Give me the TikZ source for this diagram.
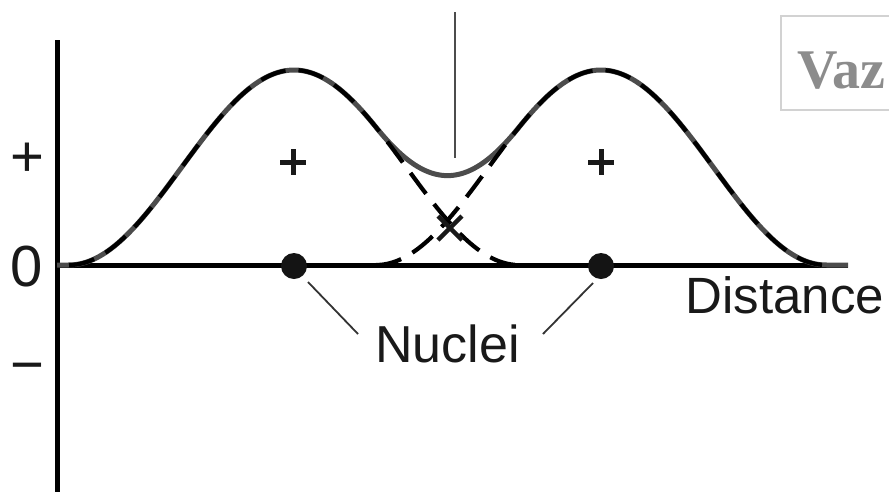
\documentclass[tikz,border=0pt]{standalone}
\usepackage{fontspec}
\setmainfont{Liberation Sans}
\newfontfamily\wmfont{Liberation Serif}
\definecolor{curvegray}{HTML}{4C4C4C}
\definecolor{wmgray}{HTML}{8C8C8C}
\definecolor{wmframe}{HTML}{D2D2D2}
\tikzset{
  axisline/.style={line width=5pt, black},
  sumcurve/.style={line width=5pt, curvegray, line join=round},
  orbcurve/.style={line width=4.2pt, black, dash pattern=on 26pt off 13pt},
  leader/.style={line width=1.8pt, black!80},
  signline/.style={line width=5pt, black!90},
  biglabel/.style={font=\fontsize{52}{60}\selectfont, inner sep=0pt, text=black!90},
  axlabel/.style={font=\fontsize{58}{66}\selectfont, inner sep=0pt, text=black!90},
  nucleus/.style={circle, fill=black!92, minimum size=26pt, inner sep=0pt},
}
\begin{document}
\begin{tikzpicture}[x=1pt,y=-1pt,
  declare function={
    fa(\t)=(abs(\t-294)<225)*97.5*(1+cos(0.8*(\t-294)));
    fb(\t)=(abs(\t-601)<225)*97.5*(1+cos(0.8*(\t-601)));
  }]
\useasboundingbox (0,0) rectangle (889,491);

% watermark box
\draw[wmframe, line width=1.5pt] (781,16) rectangle (960,110);
\node[anchor=base west, inner sep=0pt, text=wmgray, font=\wmfont\bfseries\fontsize{56}{64}\selectfont] (wm) at (797,88) {Vaz};

% vertical marker line
\coordinate (vtop) at (455,12);
\coordinate (vbot) at (455,158);
\draw[line width=2pt, curvegray] (vtop) -- (vbot);

% axes
\coordinate (yt) at (57,40);
\coordinate (yb) at (57,495);
\coordinate (xl) at (57,265);
\coordinate (xr) at (848,265);
\draw[axisline] (yt) -- (yb);
\draw[axisline] (xl) -- (xr);

% summed curve
\draw[sumcurve] plot[domain=57:848, samples=240] (\x,{265-fa(\x)-fb(\x)});
% individual orbitals (dashed)
\draw[orbcurve] plot[domain=69:519, samples=160] (\x,{265-fa(\x)});
\draw[orbcurve] plot[domain=376:826, samples=160] (\x,{265-fb(\x)});

% signs inside lobes
\draw[signline] (280,162) -- (306,162) (293,149) -- (293,175);
\draw[signline] (588,162) -- (614,162) (601,149) -- (601,175);
\draw[line width=4.5pt, black!90] (438,216) -- (462,240) (438,240) -- (462,216);

% nuclei
\node[nucleus] (dotL) at (294,266) {};
\node[nucleus] (dotR) at (601,266) {};

% labels
\node[biglabel, anchor=base] (nuclei) at (447.5,362) {Nuclei};
\node[biglabel, anchor=base, font=\fontsize{51}{60}\selectfont] (dist) at (785,313) {Distance};
\node[axlabel] (plus) at (27,160) {+};
\node[axlabel, anchor=base] (zero) at (27,286) {0};
\node[axlabel] (minus) at (27,374) {−};

% leaders
\coordinate (lA) at (308,282);
\coordinate (lB) at (358,334);
\coordinate (rA) at (593,283);
\coordinate (rB) at (543,334);
\draw[leader] (lA) -- (lB);
\draw[leader] (rA) -- (rB);
\end{tikzpicture}
\end{document}
